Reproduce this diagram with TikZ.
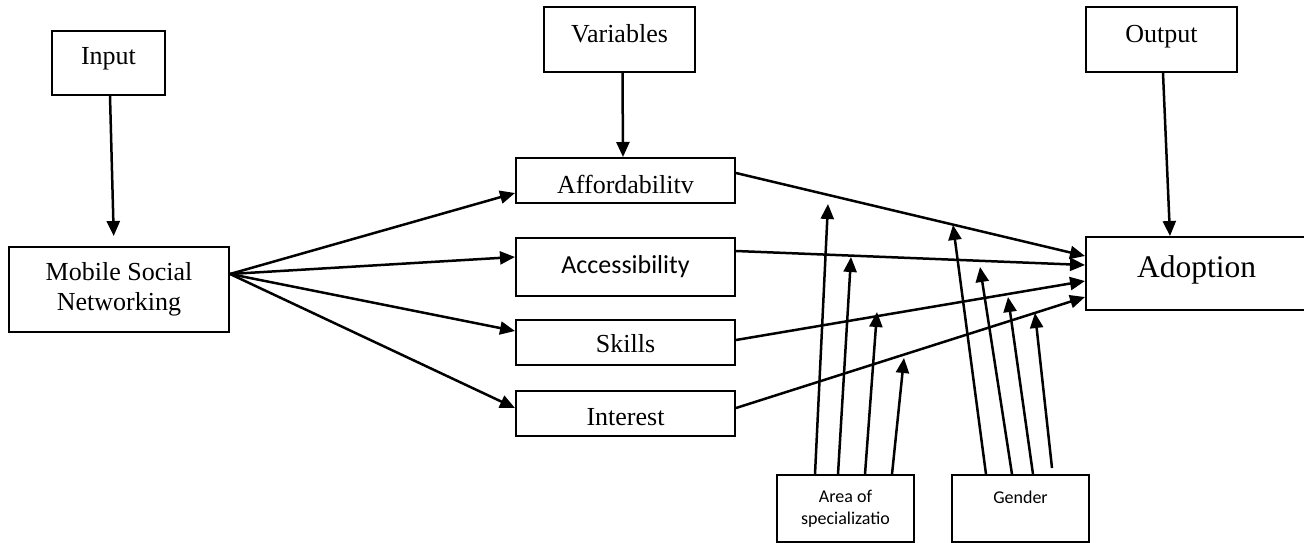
\documentclass[tikz,border=0pt]{standalone}
\usepackage{fontspec}
\setmainfont{Liberation Serif}
\newfontfamily\calfont{Carlito}
\usetikzlibrary{arrows.meta}
\tikzset{
  box/.style={draw, line width=2pt, inner sep=0pt, align=center, font=\fontsize{26}{30}\selectfont},
  smallbox/.style={draw, line width=1.5pt, inner sep=0pt, align=center, font=\calfont\fontsize{18}{22}\selectfont},
  arr/.style={line width=2.5pt, -{Triangle[length=15pt,width=13pt]}},
}
\begin{document}
\begin{tikzpicture}[x=1pt,y=-1pt]
\useasboundingbox (0,0) rectangle (1304,543);
\clip (0,0) rectangle (1304,543);
\fill[white] (0,0) rectangle (1304,543);
% top boxes
\node[box, minimum width=113pt, minimum height=64pt, text height=4pt, text depth=0pt] (in) at (108.5,63) {Input};
\node[box, minimum width=151pt, minimum height=65pt, text height=7pt, text depth=0pt] (var) at (619.5,39.5) {Variables};
\node[box, minimum width=151pt, minimum height=65pt, text height=7pt, text depth=0pt] (out) at (1161.5,39.5) {Output};
% left
\node[box, minimum width=220pt, minimum height=85pt] (msn) at (119,289.5) {Mobile Social\\Networking};
% middle
\node[box, minimum width=219pt, minimum height=45pt, text height=25pt, text depth=0pt] (aff) at (625.5,180.5) {Affordabilitv};
\node[box, minimum width=219pt, minimum height=58pt, text height=12.6pt, text depth=0pt, font=\calfont\fontsize{26}{30}\selectfont] (acc) at (625.5,267) {Accessibility};
\node[box, minimum width=219pt, minimum height=45pt, text height=20.4pt, text depth=0pt] (sk) at (625.5,342.5) {Skills};
\node[box, minimum width=219pt, minimum height=45pt, text height=23pt, text depth=0pt] (int) at (625.5,413.5) {Interest};
% right
\node[box, minimum width=221pt, minimum height=73pt, text height=7.6pt, text depth=0pt, font=\fontsize{31.5}{36}\selectfont] (ado) at (1196.5,273.5) {Adoption};
% bottom
\node[smallbox, minimum width=137pt, minimum height=67pt] (area) at (845.5,508.5) {Area of\\specializatio};
\node[smallbox, minimum width=137pt, minimum height=67pt, text height=0pt, text depth=11pt] (gen) at (1020.5,508.5) {Gender};
% free ends
\coordinate (a1) at (828,204);
\coordinate (a2) at (851,257);
\coordinate (a3) at (877,312);
\coordinate (a4) at (904,358);
\coordinate (g1) at (953,225);
\coordinate (g2) at (980,267);
\coordinate (g3) at (1008,297);
\coordinate (g4) at (1035,313);
\coordinate (g4s) at (1052,468);
% vertical arrows
\draw[arr, shorten >=10pt] ([xshift=1.5pt]in.south) -- ([xshift=-5pt]msn.north);
\draw[arr] ([xshift=3pt]var.south) -- ([xshift=-2.5pt]aff.north);
\draw[arr] ([xshift=1.5pt]out.south) -- ([xshift=-26.5pt]ado.north);
% fan out
\draw[arr] ([yshift=15.5pt]msn.east) -- ([yshift=-12.5pt]aff.west);
\draw[arr] ([yshift=15.5pt]msn.east) -- ([yshift=10pt]acc.west);
\draw[arr] ([yshift=15.5pt]msn.east) -- ([yshift=11.5pt]sk.west);
\draw[arr] ([yshift=15.5pt]msn.east) -- ([yshift=5.5pt]int.west);
% to adoption
\draw[arr] ([yshift=7.5pt]aff.east) -- ([yshift=17.5pt]ado.west);
\draw[arr] ([yshift=16pt]acc.east) -- ([yshift=8.5pt]ado.west);
\draw[arr] ([yshift=2.5pt]sk.east) -- ([yshift=-7.5pt]ado.west);
\draw[arr] ([yshift=5.5pt]int.east) -- ([yshift=-23.5pt]ado.west);
% moderators
\draw[arr] ([xshift=-30.5pt]area.north) -- (a1);
\draw[arr] ([xshift=-7.5pt]area.north) -- (a2);
\draw[arr] ([xshift=19.5pt]area.north) -- (a3);
\draw[arr] ([xshift=46.5pt]area.north) -- (a4);
\draw[arr] ([xshift=-34.5pt]gen.north) -- (g1);
\draw[arr] ([xshift=-8.5pt]gen.north) -- (g2);
\draw[arr] ([xshift=12.5pt]gen.north) -- (g3);
\draw[arr] (g4s) -- (g4);
\end{tikzpicture}
\end{document}
